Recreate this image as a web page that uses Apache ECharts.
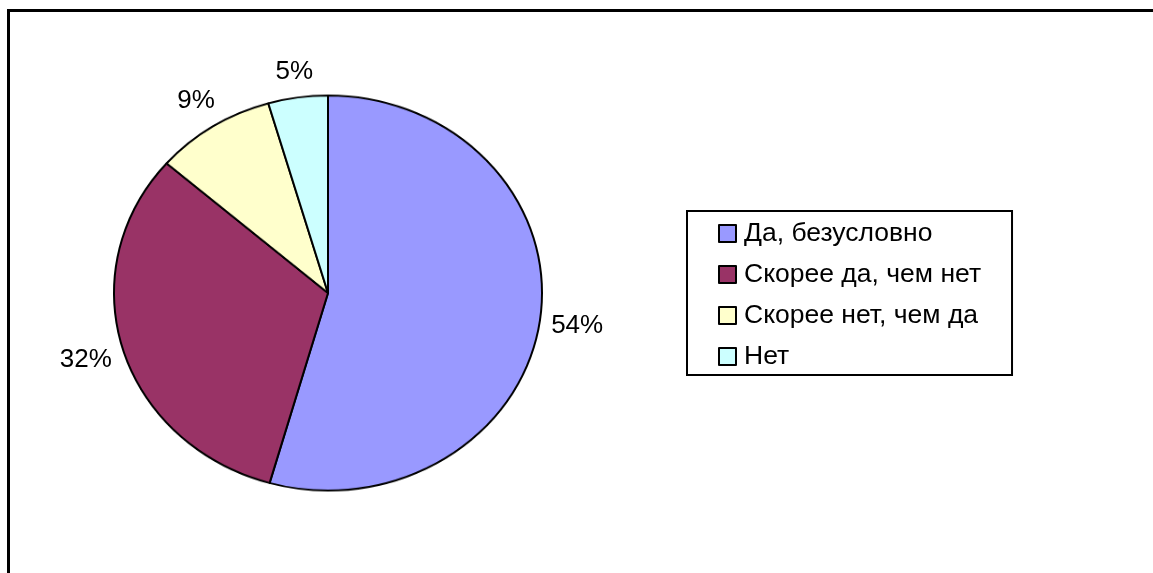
<!DOCTYPE html>
<html>
<head>
<meta charset="utf-8">
<script src="https://cdn.jsdelivr.net/npm/echarts@6/dist/echarts.min.js"></script>
<style>
    body { margin: 0; background: #fff; }
    #frame { position: absolute; left: 7px; top: 9px; width: 1200px; height: 700px; border: 3px solid #000; }
    /* the original pie is a bit flattened, so squash the pie layer only */
    #pieChart { position: absolute; left: 0; top: 0; width: 1153px; height: 573px; transform: scaleY(0.923); transform-origin: 328px 293px; }
    #textChart { position: absolute; left: 0; top: 0; width: 1153px; height: 573px; }
</style>
</head>
<body>
<div id="frame"></div>
<div id="pieChart"></div>
<div id="textChart"></div>
<script>
const categories = ['Да, безусловно', 'Скорее да, чем нет', 'Скорее нет, чем да', 'Нет']
const values = [54.4, 32.0, 9.1, 4.5]
const colors = ['#9999FF', '#993366', '#FFFFCC', '#CCFFFF']

const font = 'Liberation Sans, Arial, sans-serif'
const cx = 328
const cy = 293
const rx = 214
const ry = 197.5

const pieData = categories.map((name, i) => ({
    name: name,
    value: values[i],
    itemStyle: { color: colors[i] },
}))

const total = values.reduce((a, b) => a + b, 0)

// place labels just outside the (flattened) pie edge, like Excel does
const placeLabel = (params) => {
    const i = params.dataIndex
    let before = 0
    for (let k = 0; k < i; k++) before += values[k]
    const mid = (before + values[i] / 2) / total
    const a = Math.PI / 2 - mid * 2 * Math.PI
    const ux = Math.cos(a)
    const uy = -Math.sin(a)
    const w = params.labelRect.width
    const h = params.labelRect.height
    const d = 10 + (Math.abs(ux) * w) / 2 + (Math.abs(uy) * h) / 2
    return {
        x: cx + rx * ux + d * ux,
        y: cy + ry * uy + d * uy,
        align: 'center',
        verticalAlign: 'middle',
    }
}

let pieChart = echarts.init(document.getElementById('pieChart'))
pieChart.setOption({
    animation: false,
    series: [
        {
            type: 'pie',
            center: [cx, cy],
            radius: rx,
            startAngle: 90,
            clockwise: true,
            data: pieData,
            itemStyle: { borderColor: '#000', borderWidth: 2 },
            label: { show: false },
            labelLine: { show: false },
            emphasis: { disabled: true },
        },
    ],
})

// labels and legend live on an unsquashed layer so the text is not distorted
let textChart = echarts.init(document.getElementById('textChart'))
textChart.setOption({
    animation: false,
    legend: {
        orient: 'vertical',
        left: 687,
        top: 211,
        padding: [9, 31, 5, 31],
        itemGap: 14,
        itemWidth: 17,
        itemHeight: 17,
        borderColor: '#000',
        borderWidth: 2,
        icon: 'rect',
        itemStyle: { borderColor: '#000', borderWidth: 2 },
        textStyle: { fontSize: 26.5, lineHeight: 26, fontFamily: font, color: '#000', padding: [0, 0, 0, 3] },
        data: categories,
    },
    series: [
        {
            type: 'pie',
            center: [cx, cy],
            radius: 0,
            startAngle: 90,
            clockwise: true,
            silent: true,
            percentPrecision: 0,
            data: pieData,
            label: {
                show: true,
                position: 'outside',
                formatter: '{d}%',
                color: '#000',
                fontSize: 26,
                lineHeight: 26,
                fontFamily: font,
            },
            labelLine: { show: false },
            labelLayout: placeLabel,
        },
    ],
})
</script>
</body>
</html>
